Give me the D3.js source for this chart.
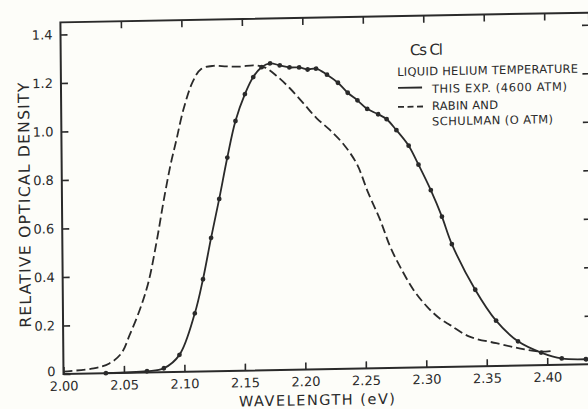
<!DOCTYPE html>
<html>
  <head>
    <meta charset="utf-8">
    <title>CsCl F-band, liquid helium temperature</title>
    <script src="https://d3js.org/d3.v7.min.js"></script>
    <style>
      body { margin: 0; background: #fdfdf9; }
      text { font-family: "DejaVu Sans", sans-serif; fill: #2a2a2a; }
    </style>
  </head>
  <body>
    <div id="chart"></div>
    <script>
      // This experiment (4600 atm), solid line with dots
      const expEnergy = [2.035, 2.069, 2.083, 2.096, 2.109, 2.116, 2.123, 2.130, 2.137, 2.144,
        2.152, 2.159, 2.166, 2.173, 2.181, 2.189, 2.197, 2.204, 2.211, 2.220,
        2.229, 2.237, 2.245, 2.253, 2.262, 2.269, 2.277, 2.287, 2.295, 2.305,
        2.314, 2.322, 2.341, 2.358, 2.376, 2.395, 2.412, 2.432];
      const expDensity = [0.00, 0.005, 0.016, 0.07, 0.24, 0.38, 0.55, 0.71, 0.88, 1.03,
        1.14, 1.21, 1.25, 1.265, 1.256, 1.247, 1.246, 1.237, 1.24, 1.214,
        1.18, 1.138, 1.106, 1.07, 1.047, 1.026, 0.98, 0.915, 0.836, 0.73,
        0.62, 0.506, 0.316, 0.187, 0.10, 0.052, 0.026, 0.021];

      // Rabin and Schulman (0 atm), dashed line
      const rsEnergy = [2.000, 2.025, 2.038, 2.048, 2.055, 2.064, 2.071, 2.078, 2.084, 2.090,
        2.095, 2.101, 2.109, 2.116, 2.126, 2.137, 2.148, 2.160, 2.169, 2.179,
        2.189, 2.200, 2.211, 2.222, 2.233, 2.244, 2.253, 2.263, 2.271, 2.279,
        2.290, 2.301, 2.312, 2.320, 2.336, 2.358, 2.377, 2.394, 2.404];
      const rsDensity = [0.010, 0.021, 0.040, 0.081, 0.156, 0.265, 0.374, 0.54, 0.705, 0.854,
        0.956, 1.08, 1.196, 1.247, 1.259, 1.256, 1.254, 1.258, 1.248, 1.21,
        1.162, 1.10, 1.036, 0.986, 0.927, 0.844, 0.727, 0.61, 0.50, 0.417,
        0.32, 0.25, 0.198, 0.172, 0.123, 0.094, 0.071, 0.056, 0.058];

      const xTicks = [2.00, 2.05, 2.10, 2.15, 2.20, 2.25, 2.30, 2.35, 2.40];
      const xTickLabels = ["2.00", "2.05", "2.10", "2.15", "2.20", "2.25", "2.30", "2.35", "2.40"];
      const yTicks = [0, 0.2, 0.4, 0.6, 0.8, 1.0, 1.2, 1.4];
      const yTickLabels = ["0", "0.2", "0.4", "0.6", "0.8", "1.0", "1.2", "1.4"];

      const ink = "#2a2a2a";

      const x = d3.scaleLinear().domain([2.00, 2.437]).range([63.5, 592]);
      const y = d3.scaleLinear().domain([0, 1.45]).range([374, 22.4]);

      const svg = d3.select("#chart")
        .append("svg")
        .attr("width", 588)
        .attr("height", 409);

      // the scanned figure sits slightly skewed on the page
      const g = svg.append("g")
        .attr("transform", "matrix(1,-0.0185,0.0088,1,-3.29,1.166)");

      // frame
      g.append("rect")
        .attr("x", x(2.00)).attr("y", y(1.45))
        .attr("width", x(2.437) - x(2.00))
        .attr("height", y(0) - y(1.45))
        .attr("fill", "none").attr("stroke", ink).attr("stroke-width", 2);

      // axes, ticks pointing inward
      g.append("g")
        .attr("transform", `translate(0,${y(0)})`)
        .call(d3.axisBottom(x).tickValues(xTicks).tickSizeInner(-7).tickSizeOuter(0)
          .tickPadding(7.5).tickFormat((d, i) => xTickLabels[i]));
      const left = g.append("g")
        .attr("transform", `translate(${x(2.00)},0)`)
        .call(d3.axisLeft(y).tickValues(yTicks).tickSizeInner(-7).tickSizeOuter(0)
          .tickPadding(8).tickFormat((d, i) => yTickLabels[i]));
      g.append("g")
        .attr("transform", `translate(0,${y(1.45)})`)
        .call(d3.axisTop(x).tickValues(xTicks.slice(1)).tickSizeInner(-7).tickSizeOuter(0).tickFormat(""));
      g.append("g")
        .attr("transform", `translate(${x(2.437)},0)`)
        .call(d3.axisRight(y).tickValues(yTicks.slice(1)).tickSizeInner(-7).tickSizeOuter(0).tickFormat(""));

      g.selectAll(".domain").remove();
      g.selectAll(".tick line").attr("stroke", ink).attr("stroke-width", 1.6);
      g.selectAll(".tick text")
        .attr("font-family", "DejaVu Sans, sans-serif")
        .attr("font-size", 13)
        .attr("fill", ink);
      // the "0" sits a little above its tick, clear of "2.00"
      left.selectAll(".tick text").filter(d => d === 0).attr("dy", "0.12em");

      // axis titles
      g.append("text")
        .attr("x", 316.7).attr("y", 409.8)
        .attr("text-anchor", "middle")
        .attr("font-size", 14.5)
        .attr("textLength", 156)
        .text("WAVELENGTH (eV)");
      g.append("text")
        .attr("transform", "translate(31.5,204.5) rotate(-90)")
        .attr("text-anchor", "middle")
        .attr("font-size", 15.5)
        .attr("textLength", 245)
        .text("RELATIVE OPTICAL DENSITY");

      // curves
      const line = d3.line()
        .x(d => x(d[0]))
        .y(d => y(d[1]))
        .curve(d3.curveCatmullRom.alpha(0.5));

      const rsData = rsEnergy.map((e, i) => [e, rsDensity[i]]);
      const expData = expEnergy.map((e, i) => [e, expDensity[i]]);

      g.append("path")
        .datum(rsData)
        .attr("d", line)
        .attr("fill", "none")
        .attr("stroke", ink)
        .attr("stroke-width", 1.8)
        .attr("stroke-dasharray", "9,4");

      g.append("path")
        .datum(expData)
        .attr("d", line)
        .attr("fill", "none")
        .attr("stroke", ink)
        .attr("stroke-width", 1.8);

      g.selectAll(".dot")
        .data(expData)
        .join("circle")
        .attr("class", "dot")
        .attr("cx", d => x(d[0]))
        .attr("cy", d => y(d[1]))
        .attr("r", 2.4)
        .attr("fill", ink);

      // legend
      const legend = g.append("g").attr("font-size", 11.5);
      legend.append("text").attr("x", 412.7).attr("y", 61.7)
        .attr("font-size", 15).attr("textLength", 33).text("Cs Cl");
      legend.append("text").attr("x", 399.7).attr("y", 82.2)
        .attr("textLength", 181).text("LIQUID HELIUM TEMPERATURE");
      legend.append("line")
        .attr("x1", 400.5).attr("x2", 424.5).attr("y1", 94.2).attr("y2", 94.2)
        .attr("stroke", ink).attr("stroke-width", 1.8);
      legend.append("text").attr("x", 434.4).attr("y", 99.8)
        .attr("textLength", 135).text("THIS EXP. (4600 ATM)");
      legend.append("line")
        .attr("x1", 400.3).attr("x2", 425.3).attr("y1", 113.2).attr("y2", 113.2)
        .attr("stroke", ink).attr("stroke-width", 1.8)
        .attr("stroke-dasharray", "6,3.5");
      legend.append("text").attr("x", 434.3).attr("y", 117)
        .attr("textLength", 66).text("RABIN AND");
      legend.append("text").attr("x", 434.2).attr("y", 132.3)
        .attr("textLength", 121).text("SCHULMAN (O ATM)");
    </script>
  </body>
</html>
